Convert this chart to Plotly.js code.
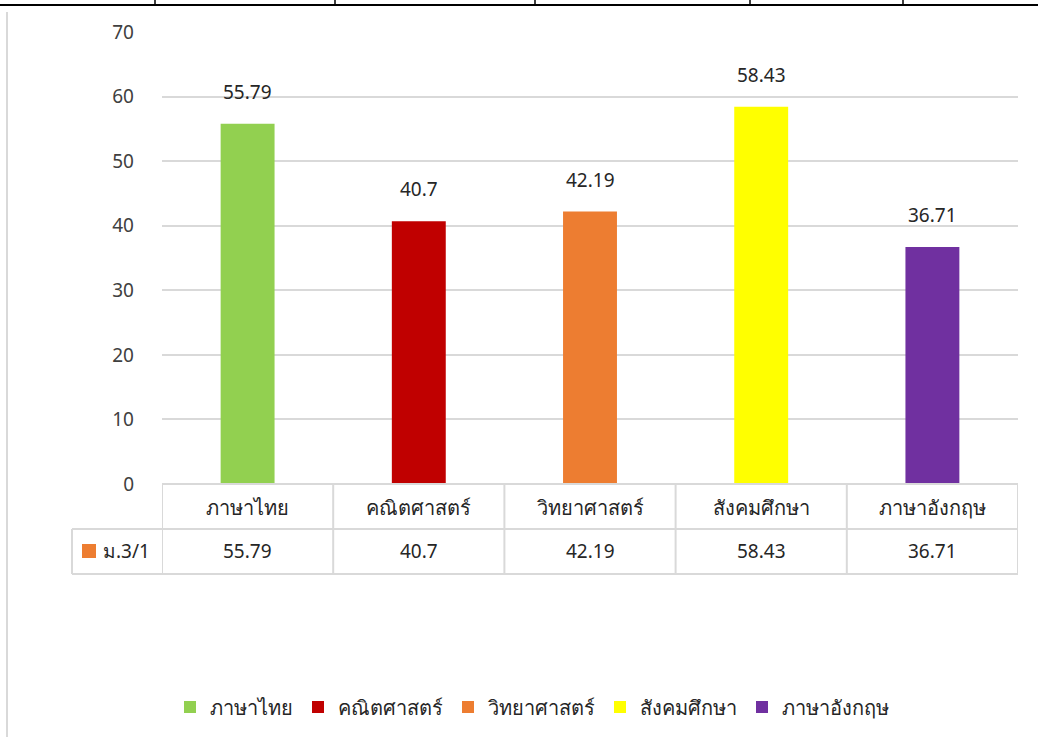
<!DOCTYPE html>
<html>
<head>
<meta charset="utf-8">
<script src="https://cdn.plot.ly/plotly-3.0.1.min.js"></script>
<style>html,body{margin:0;padding:0;background:#fff;}#chart{width:1038px;height:737px;}</style>
</head>
<body>
<div id="chart"></div>
<script>
// ---- data ----
const categories = ["ภาษาไทย", "คณิตศาสตร์", "วิทยาศาสตร์", "สังคมศึกษา", "ภาษาอังกฤษ"];
const values = [55.79, 40.7, 42.19, 58.43, 36.71];
const colors = ["#92d050", "#c00000", "#ed7d31", "#ffff00", "#7030a0"];
const seriesName = "ม.3/1";
const seriesColor = "#ed7d31";
const yTicks = [0, 10, 20, 30, 40, 50, 60, 70];

// ---- layout geometry (pixels) ----
const W = 1038, H = 737, L = 162, R = 20, T = 32, B = 253;
const pw = W - L - R, ph = H - T - B;
const px = p => (p - L) / pw;          // pixel x -> paper x
const py = p => (H - B - p) / ph;      // pixel y -> paper y

const FONT = "Noto Sans, DejaVu Sans, sans-serif";
const TXT = "#262626";
const GRID = "#d9d9d9";

const traces = categories.map((c, i) => ({
  type: "bar",
  x: [c],
  y: [values[i]],
  name: c,
  width: 0.315,
  marker: { color: colors[i] },
  hoverinfo: "skip",
  showlegend: true
}));

const shapes = [];
const annotations = [];

// table horizontal lines
[[L, 1018, 484], [72, 1018, 529], [72, 1018, 574]].forEach(([x0, x1, y]) => {
  shapes.push({ type: "line", xref: "paper", yref: "paper", x0: px(x0), x1: px(x1), y0: py(y), y1: py(y),
    line: { color: GRID, width: 2 } });
});
// table vertical lines at category boundaries
for (let i = 0; i <= categories.length; i++) {
  shapes.push({ type: "line", xref: "x", yref: "paper", x0: i - 0.5, x1: i - 0.5, y0: py(484), y1: py(574),
    line: { color: GRID, width: 2 } });
}
// left column vertical line
shapes.push({ type: "line", xref: "paper", yref: "paper", x0: px(72), x1: px(72), y0: py(529), y1: py(574),
  line: { color: GRID, width: 2 } });
// series key square in table
shapes.push({ type: "rect", xref: "paper", yref: "paper", x0: px(82), x1: px(96), y0: py(544), y1: py(558),
  fillcolor: seriesColor, line: { width: 0 } });
// outer frame bits
shapes.push({ type: "line", xref: "paper", yref: "paper", x0: px(0), x1: px(1038), y0: py(5), y1: py(5),
  line: { color: "#000", width: 2 } });
[155, 335, 535, 750, 903].forEach(x => {
  shapes.push({ type: "line", xref: "paper", yref: "paper", x0: px(x), x1: px(x), y0: py(0), y1: py(5),
    line: { color: "#000", width: 1.5 } });
});
shapes.push({ type: "line", xref: "paper", yref: "paper", x0: px(7), x1: px(7), y0: py(12), y1: py(737),
  line: { color: GRID, width: 2 } });

// table text
categories.forEach((c, i) => {
  annotations.push({ xref: "x", yref: "paper", x: c, y: py(507), text: c, showarrow: false,
    xanchor: "center", yanchor: "middle", font: { family: FONT, size: 20, color: TXT } });
  annotations.push({ xref: "x", yref: "paper", x: c, y: py(551), text: String(values[i]), showarrow: false,
    xanchor: "center", yanchor: "middle", font: { family: FONT, size: 19, color: TXT } });
  // data labels above bars
  annotations.push({ xref: "x", yref: "y", x: c, y: values[i], yshift: 32, text: String(values[i]), showarrow: false,
    xanchor: "center", yanchor: "middle", font: { family: FONT, size: 19, color: TXT } });
});
annotations.push({ xref: "paper", yref: "paper", x: px(101), y: py(551), text: seriesName, showarrow: false,
  xanchor: "left", yanchor: "middle", font: { family: FONT, size: 19, color: TXT } });

const layout = {
  width: W, height: H,
  margin: { l: L, r: R, t: T, b: B, autoexpand: false },
  paper_bgcolor: "#fff", plot_bgcolor: "#fff",
  barmode: "overlay",
  font: { family: FONT, color: TXT },
  xaxis: { type: "category", categoryarray: categories, range: [-0.5, categories.length - 0.5], automargin: false,
    showticklabels: false, showgrid: false, zeroline: false, showline: false, ticks: "" },
  yaxis: { range: [0, 70], tickvals: yTicks, ticktext: yTicks.map(String), showgrid: true, gridcolor: GRID, gridwidth: 2,
    zeroline: false, showline: false, ticks: "", ticklabelstandoff: 27, automargin: false,
    tickfont: { family: FONT, size: 19, color: "#404040" } },
  legend: { orientation: "h", xref: "paper", x: px(532), xanchor: "center", yref: "paper", y: py(707), yanchor: "middle",
    font: { family: FONT, size: 20, color: TXT }, itemclick: false, itemdoubleclick: false, traceorder: "normal",
    entrywidthmode: "pixels" },
  shapes: shapes,
  annotations: annotations,
  showlegend: true
};

Plotly.newPlot("chart", traces, layout, { displayModeBar: false, staticPlot: true });
</script>
</body>
</html>
